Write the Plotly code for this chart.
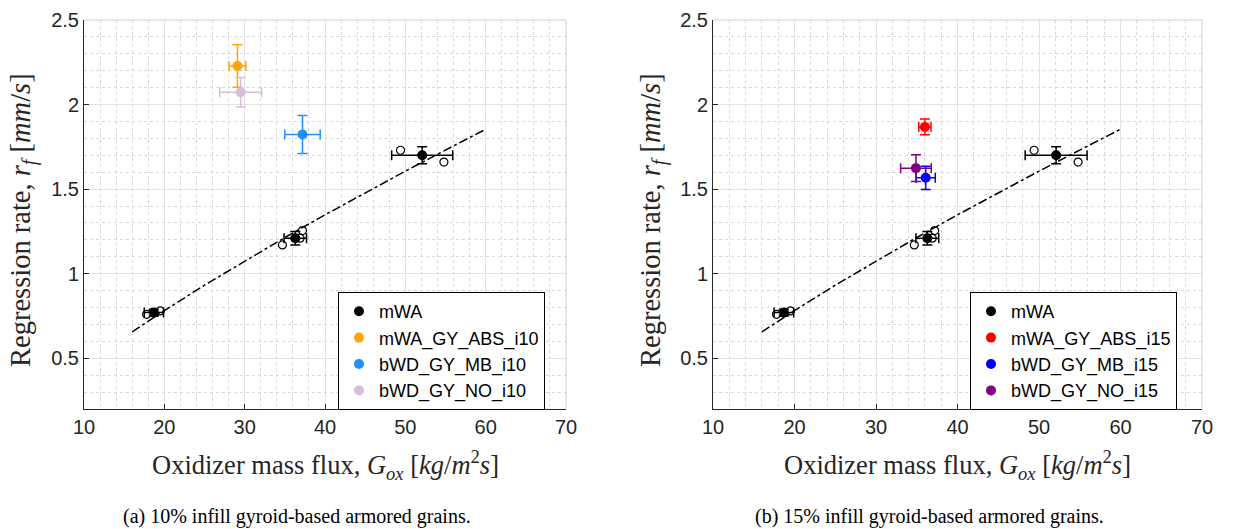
import plotly.graph_objects as go

# ---------------- data ----------------
# mWA reference (mean values with error bars), same in both panels
mwa_G = [18.7, 36.3, 52.1]
mwa_G_err = [1.2, 1.4, 3.8]
mwa_r = [0.77, 1.21, 1.70]
mwa_r_err = [0.02, 0.04, 0.05]

# individual mWA test points (open circles)
ind_G = [17.8, 19.5, 34.7, 37.2, 36.9, 49.4, 54.8]
ind_r = [0.76, 0.78, 1.17, 1.255, 1.21, 1.73, 1.66]

# fitted regression law (dash-dot line)
fit_G = [16, 20, 25, 30, 35, 40, 45, 50, 55, 60]
fit_r = [0.656, 0.782, 0.932, 1.075, 1.214, 1.348, 1.479, 1.606, 1.731, 1.854]

# panel (a) 10% infill
a_names = ["mWA_GY_ABS_i10", "bWD_GY_MB_i10", "bWD_GY_NO_i10"]
a_colors = ["#FFA500", "#1E90FF", "#D8BFD8"]
a_G = [29.1, 37.2, 29.5]
a_G_err = [1.05, 2.2, 2.6]
a_r = [2.228, 1.823, 2.073]
a_r_err = [0.126, 0.113, 0.087]

# panel (b) 15% infill
b_names = ["mWA_GY_ABS_i15", "bWD_GY_MB_i15", "bWD_GY_NO_i15"]
b_colors = ["#FF0000", "#0000FF", "#800080"]
b_G = [36.0, 36.1, 34.9]
b_G_err = [0.75, 1.17, 1.88]
b_r = [1.868, 1.567, 1.624]
b_r_err = [0.046, 0.069, 0.079]

x_ticks = [10, 20, 30, 40, 50, 60, 70]
y_ticks = [0.5, 1, 1.5, 2, 2.5]
captions = ["(a) 10% infill gyroid-based armored grains.",
            "(b) 15% infill gyroid-based armored grains."]

W, H = 1252, 529
AX = "#262626"
SANS = "Liberation Sans, Arial, sans-serif"
SERIF = "Liberation Serif, Times New Roman, serif"

fig = go.Figure()

panels = [
    ("x", "y", "legend", a_names, a_colors, a_G, a_G_err, a_r, a_r_err),
    ("x2", "y2", "legend2", b_names, b_colors, b_G, b_G_err, b_r, b_r_err),
]

for xa, ya, lg, names, colors, G, Ge, r, re in panels:
    # fit line
    fig.add_trace(go.Scatter(x=fit_G, y=fit_r, mode="lines", xaxis=xa, yaxis=ya,
                             line=dict(color="black", width=1.5, dash="dashdot"),
                             showlegend=False, hoverinfo="skip"))
    # individual points
    fig.add_trace(go.Scatter(x=ind_G, y=ind_r, mode="markers", xaxis=xa, yaxis=ya,
                             marker=dict(symbol="circle-open", size=8, color="black",
                                         line=dict(width=1.2)),
                             showlegend=False))
    # mWA means
    fig.add_trace(go.Scatter(x=mwa_G, y=mwa_r, mode="markers", name="mWA",
                             xaxis=xa, yaxis=ya, legend=lg,
                             marker=dict(size=10, color="black"),
                             error_x=dict(type="data", array=mwa_G_err, color="black",
                                          thickness=1.5, width=5),
                             error_y=dict(type="data", array=mwa_r_err, color="black",
                                          thickness=1.5, width=5)))
    for n, c, g, ge, rr, rre in zip(names, colors, G, Ge, r, re):
        fig.add_trace(go.Scatter(x=[g], y=[rr], mode="markers", name=n,
                                 xaxis=xa, yaxis=ya, legend=lg,
                                 marker=dict(size=10, color=c),
                                 error_x=dict(type="data", array=[ge], color=c,
                                              thickness=1.5, width=5),
                                 error_y=dict(type="data", array=[rre], color=c,
                                              thickness=1.5, width=5)))

xdoms = [[84 / W, 566 / W], [713 / W, 1202 / W]]
ydom = [1 - 409 / H, 1 - 20 / H]

axis_common = dict(showline=True, linecolor=AX, linewidth=1, ticks="inside",
                   ticklen=5, tickcolor=AX, tickfont=dict(family=SANS, size=20, color=AX),
                   showgrid=True, gridcolor="#e3e3e3", gridwidth=1, zeroline=False,
                   mirror=False, automargin=False)

layout = dict(width=W, height=H, margin=dict(l=0, r=0, t=0, b=0),
              paper_bgcolor="white", plot_bgcolor="white", showlegend=True)

for i, (xd, sfx) in enumerate(zip(xdoms, ["", "2"])):
    layout["xaxis" + sfx] = dict(axis_common, domain=xd, range=[10, 70],
                                 tickvals=x_ticks, anchor="y" + sfx,
                                 minor=dict(dtick=2, tick0=10, showgrid=True,
                                            gridcolor="#d9d9d9", griddash="dot",
                                            gridwidth=1, ticks=""))
    layout["yaxis" + sfx] = dict(axis_common, domain=ydom, range=[0.2, 2.5],
                                 tickvals=y_ticks, anchor="x" + sfx,
                                 minor=dict(dtick=0.1, tick0=0, showgrid=True,
                                            gridcolor="#d9d9d9", griddash="dot",
                                            gridwidth=1, ticks=""))

leg_common = dict(bgcolor="white", bordercolor="black", borderwidth=1,
                  font=dict(family=SANS, size=18, color="black"),
                  xanchor="left", yanchor="top", tracegroupgap=0)
layout["legend"] = dict(leg_common, x=338 / W, y=1 - 292 / H)
layout["legend2"] = dict(leg_common, x=970 / W, y=1 - 292 / H)

fig.update_layout(**layout)

# light top/right box edges
shapes = []
for sfx in ["", "2"]:
    xr = "x" + sfx + " domain"
    yr = "y" + sfx + " domain"
    shapes.append(dict(type="line", xref=xr, yref=yr, x0=0, x1=1, y0=1, y1=1,
                       line=dict(color="#d0d0d0", width=1)))
    shapes.append(dict(type="line", xref=xr, yref=yr, x0=1, x1=1, y0=0, y1=1,
                       line=dict(color="#d0d0d0", width=1)))
fig.update_layout(shapes=shapes)

xtitle = "Oxidizer mass flux, <i>G<sub>ox</sub></i> [<i>kg</i>/<i>m</i><sup>2</sup><i>s</i>]"
ytitle = "Regression rate, <i>r<sub>f</sub></i> [<i>mm</i>/<i>s</i>]"

annots = []
for xd, cap, ytx in zip(xdoms, captions, [23, 653]):
    xc = (xd[0] + xd[1]) / 2
    annots.append(dict(text=xtitle, x=xc, y=1 - 465 / H, xref="paper", yref="paper",
                       showarrow=False, xanchor="center", yanchor="middle",
                       font=dict(family=SERIF, size=26.5, color=AX)))
    annots.append(dict(text=ytitle, x=ytx / W, y=1 - 220 / H, xref="paper", yref="paper",
                       showarrow=False, xanchor="center", yanchor="middle", textangle=-90,
                       font=dict(family=SERIF, size=28.5, color=AX)))
    annots.append(dict(text=cap, x=xc - 28 / W, y=1 - 516 / H, xref="paper", yref="paper",
                       showarrow=False, xanchor="center", yanchor="middle",
                       font=dict(family=SERIF, size=20, color="black")))
fig.update_layout(annotations=annots)

fig.write_html("out.html", config={"displayModeBar": False},
               post_script="document.body.style.margin='0';")
